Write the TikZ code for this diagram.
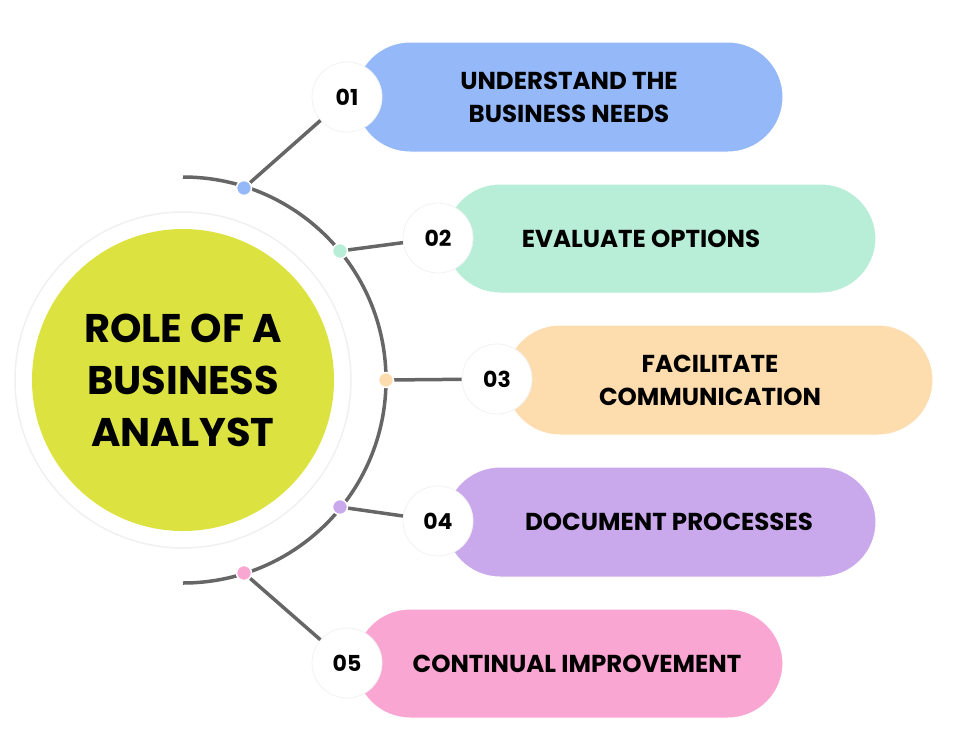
\documentclass[tikz,border=0pt]{standalone}
\usepackage{fontspec}
\setmainfont{Poppins}
\usetikzlibrary{positioning}
\definecolor{bluepill}{HTML}{94B8F8}
\definecolor{greenpill}{HTML}{B8EDD8}
\definecolor{orangepill}{HTML}{FDDCAE}
\definecolor{purplepill}{HTML}{C9A8EC}
\definecolor{pinkpill}{HTML}{F9A6D3}
\definecolor{lime}{HTML}{DCE340}
\definecolor{linegray}{HTML}{666666}
\tikzset{
	pill/.style={rounded corners=55pt,draw=white,line width=1pt},
	numcirc/.style={circle,fill=white,draw=white!95!black,line width=0.8pt,minimum size=70pt,inner sep=0,font=\fontsize{22}{22}\selectfont\bfseries},
	dot/.style={circle,draw=white,line width=1.5pt,minimum size=15pt,inner sep=0},
	link/.style={color=linegray,line width=3.5pt},
	pilltext/.style={font=\fontsize{24.5}{33}\selectfont\bfseries,align=center}
}
\begin{document}
\begin{tikzpicture}[x=1pt,y=-1pt]
\useasboundingbox (0,0) rectangle (962,748);
%%%% centre
\draw[white!94!black,line width=1.5pt] (183,380) circle (168);
\node[circle,fill=lime,minimum size=302pt,inner sep=0,align=center,
	font=\fontsize{40}{52}\selectfont\bfseries] (title) at (183,380) {ROLE OF A\\BUSINESS\\ANALYST};
\draw[linegray,line width=3.5pt] (183,177) arc[start angle=-90,end angle=90,radius=203];

%%%% pills
\fill[bluepill,pill] (355,42) rectangle (783,152);
\fill[greenpill,pill] (445,184) rectangle (876,293);
\fill[orangepill,pill] (505,325) rectangle (933,435);
\fill[purplepill,pill] (445,467) rectangle (876,577);
\fill[pinkpill,pill] (355,609) rectangle (783,718);
\node[pilltext] (t1) at (569,97) {UNDERSTAND THE\\BUSINESS NEEDS};
\node[pilltext] (t2) at (641,239) {EVALUATE OPTIONS};
\node[pilltext] (t3) at (710,380) {FACILITATE\\COMMUNICATION};
\node[pilltext] (t4) at (669,522) {DOCUMENT PROCESSES};
\node[pilltext] (t5) at (577,664) {CONTINUAL IMPROVEMENT};

%%%% numbers and dots
\node[numcirc] (n1) at (347,97) {01};
\node[numcirc] (n2) at (438,238) {02};
\node[numcirc] (n3) at (497,379) {03};
\node[numcirc] (n4) at (438,521) {04};
\node[numcirc] (n5) at (347,663) {05};
\node[dot,fill=bluepill] (d1) at (244,188) {};
\node[dot,fill=greenpill] (d2) at (340,251) {};
\node[dot,fill=orangepill] (d3) at (386,380) {};
\node[dot,fill=purplepill] (d4) at (340,507) {};
\node[dot,fill=pinkpill] (d5) at (244,573) {};
\foreach \i in {1,...,5}
	\draw[link] (d\i) -- (n\i);
\end{tikzpicture}
\end{document}
